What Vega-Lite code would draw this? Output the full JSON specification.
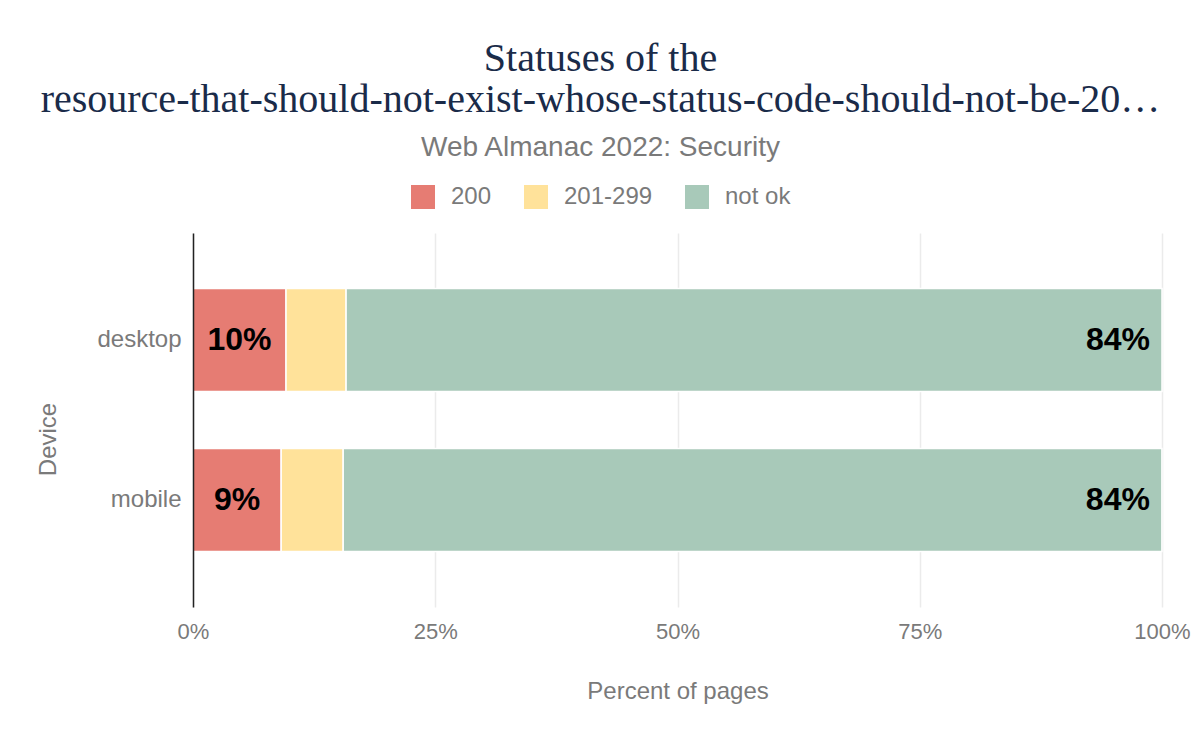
{
  "$schema": "https://vega.github.io/schema/vega-lite/v6.json",
  "width": 969,
  "height": 374,
  "autosize": {"type": "none"},
  "padding": {"left": 193, "top": 233, "right": 38, "bottom": 135},
  "background": "white",
  "title": {
    "text": ["Statuses of the", "resource-that-should-not-exist-whose-status-code-should-not-be-20…"],
    "subtitle": "Web Almanac 2022: Security",
    "anchor": "middle",
    "font": "Liberation Serif",
    "fontSize": 40,
    "fontWeight": "normal",
    "color": "#1a2b49",
    "lineHeight": 41,
    "subtitleFont": "Liberation Sans",
    "subtitleFontSize": 28,
    "subtitleColor": "#7a7a7a",
    "subtitlePadding": 14,
    "dx": -77,
    "offset": 23
  },
  "config": {
    "view": {"stroke": null},
    "font": "Liberation Sans"
  },
  "data": {
    "values": [
      {"device": "desktop", "status": "200", "pct": 0.096},
      {"device": "desktop", "status": "201-299", "pct": 0.062},
      {"device": "desktop", "status": "not ok", "pct": 0.842},
      {"device": "mobile", "status": "200", "pct": 0.091},
      {"device": "mobile", "status": "201-299", "pct": 0.064},
      {"device": "mobile", "status": "not ok", "pct": 0.8449}
    ]
  },
  "transform": [
    {"stack": "pct", "groupby": ["device"], "sort": [{"field": "status", "order": "ascending"}], "as": ["x0", "x1"]},
    {"calculate": "(datum.x0 + datum.x1) / 2", "as": "mid"}
  ],
  "encoding": {
    "y": {
      "field": "device",
      "type": "nominal",
      "sort": ["desktop", "mobile"],
      "scale": {"paddingInner": 0.35625, "paddingOuter": 0.346875},
      "axis": {
        "title": "Device",
        "titleFont": "Liberation Sans",
        "titleFontSize": 24,
        "titleFontWeight": "normal",
        "titleColor": "#7a7a7a",
        "titlePadding": 36,
        "titleY": 206,
        "labelFont": "Liberation Sans",
        "labelFontSize": 24,
        "labelColor": "#7a7a7a",
        "labelPadding": 12,
        "ticks": false,
        "domainColor": "#222222",
        "domainWidth": 1.5,
        "zindex": 1
      }
    }
  },
  "layer": [
    {
      "mark": {"type": "bar", "stroke": "white", "strokeWidth": 1.5},
      "encoding": {
        "x": {
          "field": "x0",
          "type": "quantitative",
          "scale": {"domain": [0, 1]},
          "axis": {
            "title": "Percent of pages",
            "format": ".0%",
            "values": [0, 0.25, 0.5, 0.75, 1],
            "titleFont": "Liberation Sans",
            "titleFontSize": 24,
            "titleFontWeight": "normal",
            "titleColor": "#7a7a7a",
            "titlePadding": 37,
            "labelFont": "Liberation Sans",
            "labelFontSize": 22,
            "labelColor": "#7a7a7a",
            "labelPadding": 14,
            "labelFlush": false,
            "ticks": false,
            "domain": false,
            "grid": true,
            "gridColor": "#ebebeb",
            "gridWidth": 1.5
          }
        },
        "x2": {"field": "x1"},
        "color": {
          "field": "status",
          "type": "nominal",
          "scale": {"domain": ["200", "201-299", "not ok"], "range": ["#e67c73", "#ffe29a", "#a8c9b9"]},
          "legend": {
            "title": null,
            "orient": "none",
            "direction": "horizontal",
            "legendX": 218,
            "legendY": -48,
            "symbolType": "square",
            "symbolSize": 576,
            "symbolStrokeWidth": 0,
            "symbolOpacity": 1,
            "labelFont": "Liberation Sans",
            "labelFontSize": 24,
            "labelColor": "#7a7a7a",
            "labelOffset": 16,
            "columnPadding": 32
          }
        }
      }
    },
    {
      "transform": [{"filter": "datum.status == '200'"}],
      "mark": {"type": "text", "font": "Liberation Sans", "fontSize": 32, "fontWeight": "bold", "color": "#000000"},
      "encoding": {
        "x": {"field": "mid", "type": "quantitative"},
        "text": {"field": "pct", "type": "quantitative", "format": ".0%"}
      }
    },
    {
      "transform": [{"filter": "datum.status == 'not ok'"}],
      "mark": {"type": "text", "align": "right", "dx": -12, "font": "Liberation Sans", "fontSize": 32, "fontWeight": "bold", "color": "#000000"},
      "encoding": {
        "x": {"field": "x1", "type": "quantitative"},
        "text": {"field": "pct", "type": "quantitative", "format": ".0%"}
      }
    }
  ]
}
